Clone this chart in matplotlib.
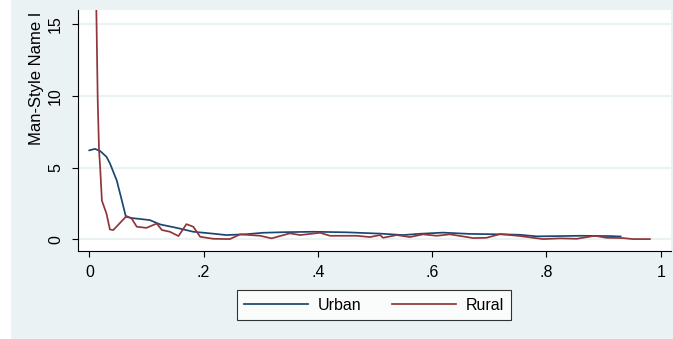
import matplotlib
matplotlib.use("Agg")
import matplotlib.pyplot as plt

plt.rcParams['font.family'] = ['Liberation Sans', 'DejaVu Sans']

# Kernel density estimates of the share, by residence
urban_x = [0.000, 0.010, 0.019, 0.030, 0.036, 0.048, 0.057, 0.064, 0.075, 0.089, 0.106,
           0.124, 0.153, 0.182, 0.211, 0.240, 0.275, 0.304, 0.340, 0.392, 0.451,
           0.509, 0.549, 0.579, 0.619, 0.666, 0.724, 0.753, 0.783, 0.824, 0.859,
           0.911, 0.930]
urban_y = [6.20, 6.30, 6.15, 5.75, 5.30, 4.10, 2.70, 1.57, 1.48, 1.42, 1.34,
           1.04, 0.80, 0.53, 0.42, 0.30, 0.36, 0.46, 0.50, 0.53, 0.49,
           0.40, 0.30, 0.39, 0.47, 0.38, 0.35, 0.32, 0.21, 0.23, 0.25,
           0.23, 0.20]

rural_x = [0.010, 0.0147, 0.017, 0.019, 0.022, 0.030, 0.036, 0.042, 0.065, 0.074,
           0.083, 0.100, 0.118, 0.127, 0.141, 0.156, 0.170, 0.182, 0.194, 0.217,
           0.246, 0.264, 0.299, 0.319, 0.351, 0.369, 0.404, 0.421, 0.468, 0.491,
           0.509, 0.514, 0.538, 0.561, 0.584, 0.608, 0.631, 0.672, 0.695, 0.719,
           0.754, 0.794, 0.824, 0.853, 0.885, 0.905, 0.934, 0.951, 0.981]
rural_y = [22.0, 9.7, 6.2, 5.0, 2.7, 1.8, 0.69, 0.65, 1.62, 1.46,
           0.88, 0.80, 1.10, 0.65, 0.53, 0.23, 1.06, 0.88, 0.18, 0.04,
           0.02, 0.35, 0.25, 0.07, 0.42, 0.30, 0.46, 0.25, 0.25, 0.16,
           0.30, 0.11, 0.30, 0.16, 0.35, 0.25, 0.35, 0.09, 0.11, 0.37,
           0.23, 0.02, 0.07, 0.04, 0.25, 0.11, 0.09, 0.02, 0.02]

x_ticks = [0, 0.2, 0.4, 0.6, 0.8, 1.0]
x_tick_labels = ["0", ".2", ".4", ".6", ".8", "1"]
y_ticks = [0, 5, 10, 15]
y_tick_labels = ["0", "5", "10", "15"]
series_names = ["Urban", "Rural"]

BG = "#EAF2F3"
NAVY = "#1A476F"
MAROON = "#90353B"

W, H = 673, 339
fig = plt.figure(figsize=(W / 100, H / 100), dpi=100)
fig.patch.set_facecolor("white")
# shaded graph region (leaves a white strip on the left)
fig.patches.append(plt.Rectangle((11 / W, 0), 1 - 11 / W, 1, transform=fig.transFigure,
                                 facecolor=BG, edgecolor="none", zorder=-10))

ax = fig.add_axes([78 / W, 1 - 251 / H, (671 - 78) / W, (251 - 10) / H])
ax.set_facecolor("white")

for yv in y_ticks:
    ax.axhline(yv, color=BG, lw=1.6, zorder=0)

ax.plot(urban_x, urban_y, color=NAVY, lw=1.25, label=series_names[0], zorder=3)
ax.plot(rural_x, rural_y, color=MAROON, lw=1.25, label=series_names[1], zorder=3)

ax.set_xlim(-0.0198, 1.018)
ax.set_ylim(-0.81, 15.97)

ax.set_xticks(x_ticks)
ax.set_xticklabels(x_tick_labels)
ax.set_yticks(y_ticks)
ax.set_yticklabels(y_tick_labels, rotation=90, va="center")

ax.tick_params(axis="both", labelsize=11.5, length=4.3, width=0.8, color="black")
ax.tick_params(axis="x", pad=6.0)
ax.tick_params(axis="y", pad=6.5)

for side in ("top", "right"):
    ax.spines[side].set_visible(False)
for side in ("left", "bottom"):
    ax.spines[side].set_linewidth(0.8)
    ax.spines[side].set_color("black")

fig.text(37 / W, 1 - 78.5 / H, "Man-Style Name I", rotation=90,
         ha="center", va="center", fontsize=12)

leg = fig.legend(loc="center", bbox_to_anchor=(374 / W, 1 - 305 / H), ncol=2,
                 fontsize=11.5, handlelength=4.0, handletextpad=0.6,
                 columnspacing=1.9, borderpad=0.45, frameon=True, fancybox=False)
leg.get_frame().set_edgecolor("black")
leg.get_frame().set_linewidth(0.8)
leg.get_frame().set_facecolor("white")
for line in leg.get_lines():
    line.set_linewidth(1.25)

fig.savefig("out.png", dpi=100, facecolor=fig.get_facecolor())
